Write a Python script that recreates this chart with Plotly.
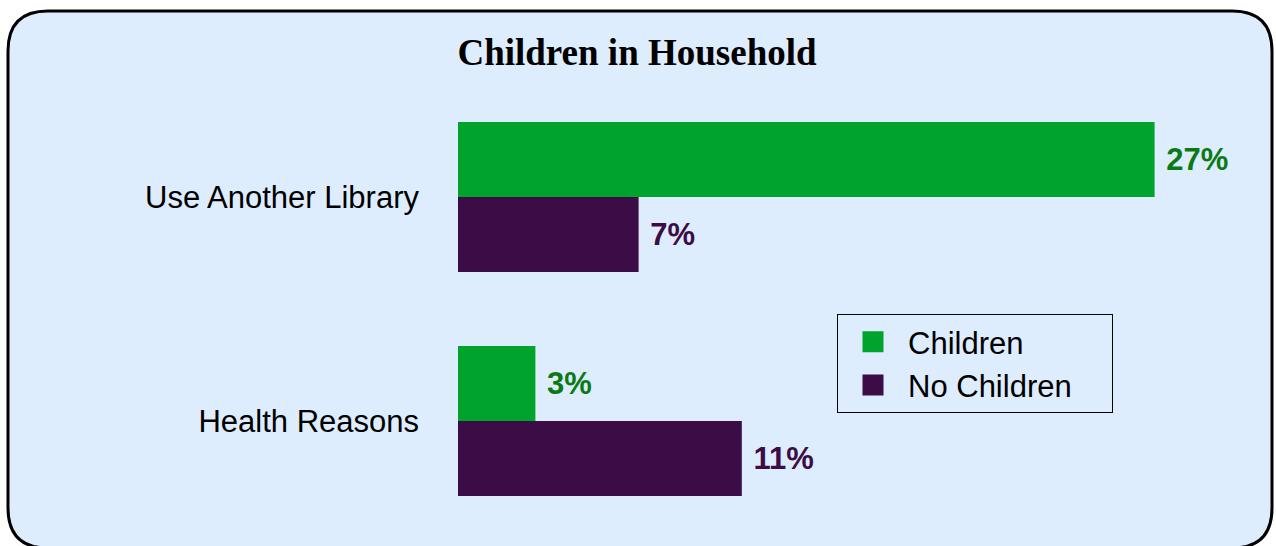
import plotly.graph_objects as go

categories = ["Health Reasons", "Use Another Library"]
children = [3, 27]
no_children = [11, 7]
series_names = ["Children", "No Children"]

GREEN = "#00a32c"
GREEN_TXT = "#0b7a16"
PURPLE = "#3c0c46"

W, H = 1276, 546
PL, PR = 458, 1232  # plot pixel left/right
PT, PB = 85, 533    # plot pixel top/bottom


def px2x(p):
    return (p - PL) / (PR - PL)


def px2y(p):
    return (PB - p) / (PB - PT)


fig = go.Figure()
fig.add_trace(go.Bar(
    y=categories, x=no_children, orientation="h", name=series_names[1],
    marker=dict(color=PURPLE, line=dict(width=0)),
    texttemplate=" %{x}%", textposition="outside", constraintext="none",
    textfont=dict(family="Liberation Sans", size=31, color=PURPLE, weight="bold"),
    cliponaxis=False, showlegend=False,
))
fig.add_trace(go.Bar(
    y=categories, x=children, orientation="h", name=series_names[0],
    marker=dict(color=GREEN, line=dict(width=0)),
    texttemplate=" %{x}%", textposition="outside", constraintext="none",
    textfont=dict(family="Liberation Sans", size=31, color=GREEN_TXT, weight="bold"),
    cliponaxis=False, showlegend=False,
))
# legend entries
for i, (nm, col) in enumerate(zip(series_names, [GREEN, PURPLE])):
    fig.add_trace(go.Scatter(
        x=[None], y=[None], mode="markers", name=nm + "\u00a0\u00a0\u00a0\u00a0",
        legendgroup=nm, legendrank=i,
        marker=dict(symbol="square", size=16, color=col, line=dict(color=col, width=5)),
    ))

# rounded frame
l, r, t, b, rad = 8, 1272, 11, 548, 40
path = (
    f"M {px2x(l + rad)},{px2y(t)} L {px2x(r - rad)},{px2y(t)} "
    f"Q {px2x(r)},{px2y(t)} {px2x(r)},{px2y(t + rad)} "
    f"L {px2x(r)},{px2y(b - rad)} Q {px2x(r)},{px2y(b)} {px2x(r - rad)},{px2y(b)} "
    f"L {px2x(l + rad)},{px2y(b)} Q {px2x(l)},{px2y(b)} {px2x(l)},{px2y(b - rad)} "
    f"L {px2x(l)},{px2y(t + rad)} Q {px2x(l)},{px2y(t)} {px2x(l + rad)},{px2y(t)} Z"
)
fig.add_shape(type="path", path=path, xref="paper", yref="paper", layer="below",
              fillcolor="#deedfe", line=dict(color="black", width=3))

fig.update_layout(
    width=W, height=H,
    margin=dict(l=PL, r=W - PR, t=PT, b=H - PB, pad=0),
    paper_bgcolor="white", plot_bgcolor="rgba(0,0,0,0)",
    barmode="group", bargap=0.33, bargroupgap=0,
    title=dict(text="<b>Children in Household</b>", x=637 / W, xref="container",
               xanchor="center", y=1 - 52 / H, yref="container", yanchor="middle",
               font=dict(family="Liberation Serif", size=37, color="black")),
    xaxis=dict(range=[0, 30], visible=False, showgrid=False, zeroline=False),
    yaxis=dict(categoryorder="array", categoryarray=categories, range=[-0.5, 1.5],
               showgrid=False, zeroline=False, showline=False, ticks="",
               ticklabelstandoff=38,
               tickfont=dict(family="Liberation Sans", size=31, color="black")),
    legend=dict(x=px2x(837), y=px2y(314), xanchor="left", yanchor="top",
                bgcolor="rgba(0,0,0,0)", bordercolor="black", borderwidth=1,
                tracegroupgap=0, itemwidth=60,
                font=dict(family="Liberation Sans", size=31, color="black")),
    showlegend=True,
)

fig.write_html("out.html", post_script="document.body.style.margin='0';",
               config={"displayModeBar": False})
